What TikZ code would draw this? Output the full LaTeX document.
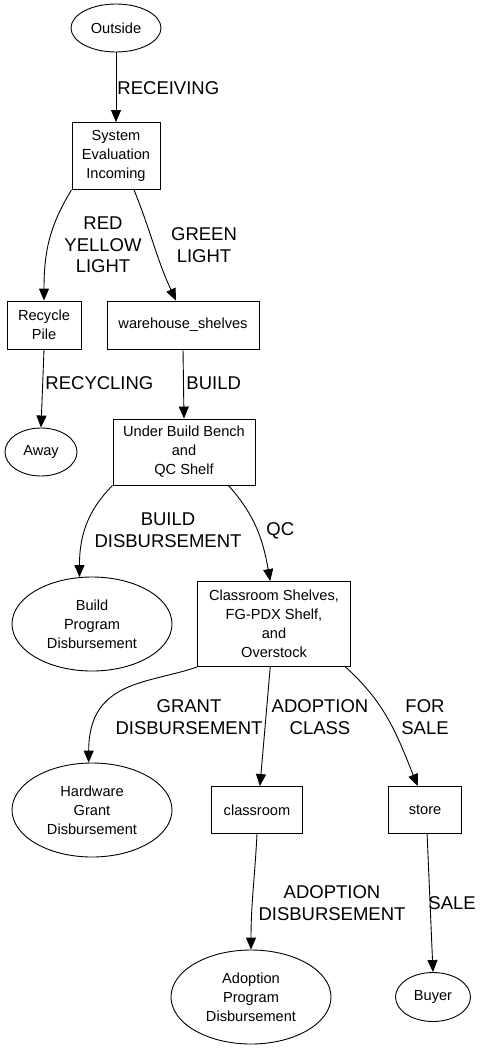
\documentclass[tikz,border=0pt]{standalone}
\usepackage{fontspec}
\setmainfont{Liberation Sans}
\usetikzlibrary{arrows.meta,shapes.geometric}
\newcommand\nodefont{\fontsize{14.6}{19}\selectfont}
\newcommand\tagfont{\fontsize{18.5}{21.5}\selectfont}
\tikzset{
  flow/.style={x=1pt,y=1pt,line width=0.9pt,>={Triangle[length=12pt,width=10pt]}},
  place/.style={draw,ellipse,inner sep=0pt,align=center,font=\nodefont},
  shelf/.style={draw,rectangle,inner sep=0pt,align=center,font=\nodefont},
  move/.style={->},
  tag/.style={inner sep=0pt,align=center,font=\tagfont},
}
\begin{document}
\begin{tikzpicture}[flow]
  \useasboundingbox (0,0) rectangle (484,-1051);
  % places and shelves
  \node[place,minimum width=90pt,minimum height=48pt] (outside) at (116,-28) {Outside};
  \node[shelf,minimum width=88pt,minimum height=67pt] (sys) at (116,-156) {System\\Evaluation\\Incoming};
  \node[shelf,minimum width=74pt,minimum height=48pt] (recycle) at (44,-325) {Recycle\\Pile};
  \node[shelf,minimum width=152pt,minimum height=48pt] (wh) at (183,-325) {warehouse\_shelves};
  \node[place,minimum width=72pt,minimum height=48pt] (away) at (41,-452) {Away};
  \node[shelf,minimum width=142pt,minimum height=66pt] (bench) at (184,-452) {Under Build Bench\\and\\QC Shelf};
  \node[place,minimum width=160pt,minimum height=94pt] (buildprog) at (92,-624) {Build\\Program\\Disbursement};
  \node[shelf,minimum width=153pt,minimum height=85pt] (shelves) at (274,-624) {Classroom Shelves,\\FG-PDX Shelf,\\and\\Overstock};
  \node[place,minimum width=160pt,minimum height=94pt] (hwgrant) at (92,-810) {Hardware\\Grant\\Disbursement};
  \node[shelf,minimum width=91pt,minimum height=47pt] (classroom) at (257,-810) {classroom};
  \node[shelf,minimum width=73pt,minimum height=47pt] (store) at (425,-810) {store};
  \node[place,minimum width=160pt,minimum height=94pt] (adoptprog) at (251,-997) {Adoption\\Program\\Disbursement};
  \node[place,minimum width=75pt,minimum height=49pt] (buyer) at (433,-997) {Buyer};
  % edge labels
  \node[tag,anchor=west] (tRecv) at (117,-88) {RECEIVING};
  \node[tag] (tRed) at (103,-245) {RED\\YELLOW\\LIGHT};
  \node[tag] (tGreen) at (204,-245) {GREEN\\LIGHT};
  \node[tag,anchor=west] (tRecyc) at (45,-383) {RECYCLING};
  \node[tag,anchor=west] (tBuild) at (186,-383) {BUILD};
  \node[tag] (tBuildDisb) at (168,-530) {BUILD\\DISBURSEMENT};
  \node[tag,anchor=west] (tQC) at (266,-531) {QC};
  \node[tag] (tGrant) at (189,-717) {GRANT\\DISBURSEMENT};
  \node[tag] (tAdoptClass) at (320,-717) {ADOPTION\\CLASS};
  \node[tag] (tForSale) at (425,-717) {FOR\\SALE};
  \node[tag] (tAdoptDisb) at (332,-903) {ADOPTION\\DISBURSEMENT};
  \node[tag,anchor=west] (tSale) at (428,-903) {SALE};
  % moves
  \draw[move] (outside) -- (sys);
  \draw[move] (sys.south west) to[out=-122,in=90] (recycle.north);
  \draw[move] (sys.-62) to[out=-68,in=115] (wh.106);
  \draw[move] (recycle.south) -- (away.north);
  \draw[move] (wh.south) -- (bench.north);
  \draw[move] (bench.south west) to[out=-135,in=90] (buildprog.105);
  \draw[move] (bench.-37) to[out=-48,in=100] (shelves.95);
  \draw[move] (shelves.south west) .. controls +(-48,-17) and +(0,83) .. (hwgrant.94);
  \draw[move] (shelves.-95) -- (classroom.83);
  \draw[move] (shelves.-31) to[out=-42,in=112] (store.107);
  \draw[move] (classroom.south) to[out=-93,in=90] (adoptprog.north);
  \draw[move] (store.-85) -- (buyer.north);
\end{tikzpicture}
\end{document}
